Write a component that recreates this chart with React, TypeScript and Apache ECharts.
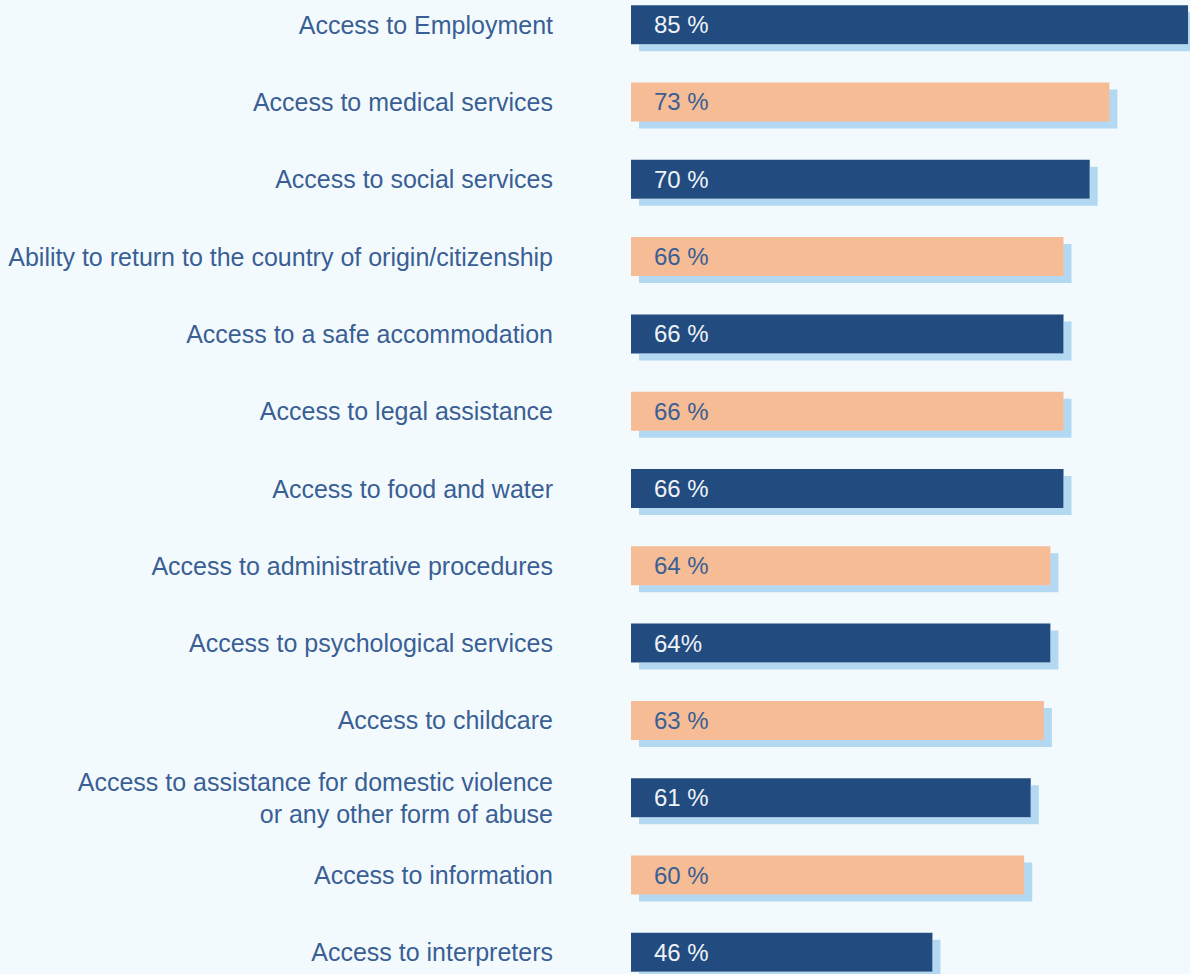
import React, { useEffect, useRef } from "react";
import * as echarts from "echarts";

const categories: string[] = [
  "Access to Employment",
  "Access to medical services",
  "Access to social services",
  "Ability to return to the country of origin/citizenship",
  "Access to a safe accommodation",
  "Access to legal assistance",
  "Access to food and water",
  "Access to administrative procedures",
  "Access to psychological services",
  "Access to childcare",
  "Access to assistance for domestic violence\nor any other form of abuse",
  "Access to information",
  "Access to interpreters",
];
const values: number[] = [85, 73, 70, 66, 66, 66, 66, 64, 64, 63, 61, 60, 46];
const valueLabels: string[] = [
  "85 %", "73 %", "70 %", "66 %", "66 %", "66 %", "66 %", "64 %", "64%", "63 %", "61 %", "60 %", "46 %",
];

const DARK = "#244c80";
const PEACH = "#f5bc96";
const SHADOW = "#b2d8f2";
const BG = "#f3fafe";
const TEXT = "#3a5f94";

export default function App() {
  const ref = useRef<HTMLDivElement>(null);
  useEffect(() => {
    document.body.style.background = BG;
    if (!ref.current) return;
    const chart = echarts.init(ref.current, undefined, { renderer: "svg" });
    chart.setOption({
      animation: false,
      backgroundColor: BG,
      grid: { left: 631, right: 0, top: 0, bottom: 0 },
      xAxis: {
        type: "value",
        min: 0,
        max: 85.3,
        show: false,
      },
      yAxis: {
        type: "category",
        data: categories,
        inverse: true,
        axisLine: { show: false },
        axisTick: { show: false },
        splitLine: { show: false },
        axisLabel: {
          margin: 78,
          color: TEXT,
          fontSize: 25,
          fontFamily: "Liberation Sans, Arial, sans-serif",
          lineHeight: 32,
          align: "right",
        },
      },
      series: [
        {
          type: "bar",
          barWidth: 39,
          data: values.map((v, i) => ({
            value: v,
            itemStyle: {
              color: i % 2 === 0 ? DARK : PEACH,
              shadowColor: SHADOW,
              shadowOffsetX: 8,
              shadowOffsetY: 7,
              shadowBlur: 0,
            },
            label: {
              color: i % 2 === 0 ? "#eef3f8" : TEXT,
              formatter: valueLabels[i],
            },
          })),
          label: {
            show: true,
            position: "insideLeft",
            distance: 23,
            fontSize: 24,
            fontFamily: "Liberation Sans, Arial, sans-serif",
          },
        },
      ],
    });
    return () => chart.dispose();
  }, []);
  return (
    <div
      ref={ref}
      style={{ position: "fixed", left: 0, top: -14.2, width: 1190, height: 1005.3 }}
    />
  );
}
